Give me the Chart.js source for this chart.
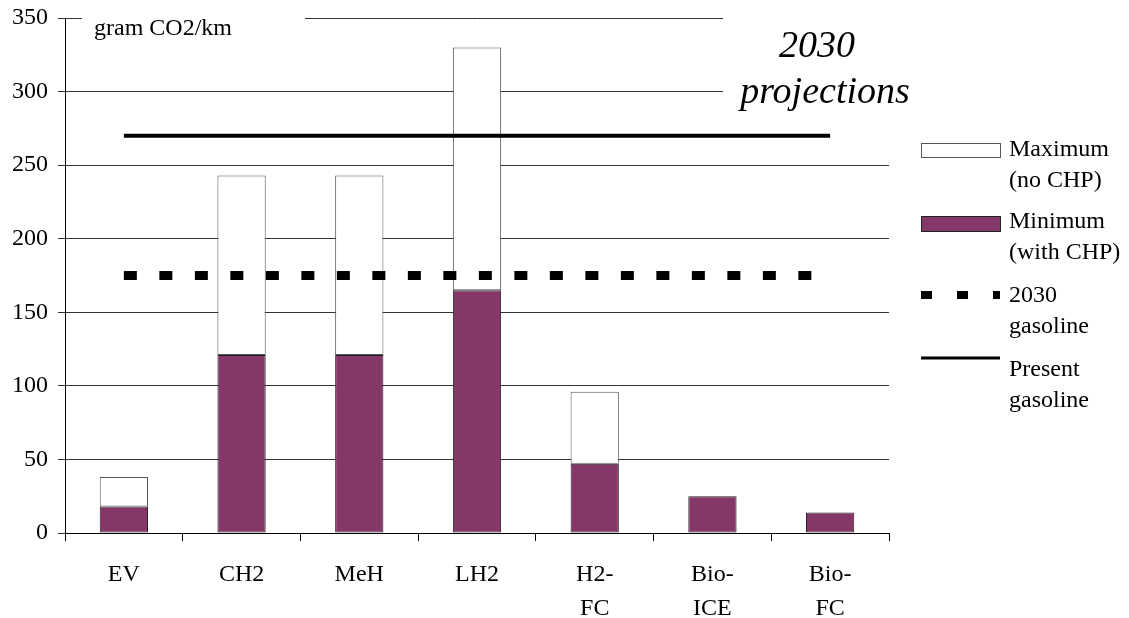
<!DOCTYPE html>
<html>
<head>
<meta charset="utf-8">
<script src="https://cdn.jsdelivr.net/npm/chart.js@4"></script>
<style>
  html, body { margin: 0; padding: 0; background: #fff; }
  #wrap { width: 1129px; height: 618px; }
</style>
</head>
<body>
<div id="wrap"><canvas id="canvas" width="1129" height="618"></canvas></div>
<script>
const categories = ['EV', 'CH2', 'MeH', 'LH2', 'H2-FC', 'Bio-ICE', 'Bio-FC'];
const tickLabels = [['EV'], ['CH2'], ['MeH'], ['LH2'], ['H2-', 'FC'], ['Bio-', 'ICE'], ['Bio-', 'FC']];
const minimumWithCHP = [18, 121, 121, 165, 47, 25, 14];
const maximumNoCHP = [38, 243, 243, 330, 96, null, null];
const gasoline2030 = [175, 175, 175, 175, 175, 175, 175];
const gasolinePresent = [270, 270, 270, 270, 270, 270, 270];
const yTicks = [0, 50, 100, 150, 200, 250, 300, 350];

const purple = '#853868';
const serif = '"Liberation Serif", "DejaVu Serif", serif';

// white text boxes and the legend, drawn like the Excel original
const decorations = {
    id: 'decorations',
    beforeDatasetsDraw(chart) {
        const ctx = chart.ctx;
        const area = chart.chartArea;
        ctx.save();
        ctx.fillStyle = '#fff';
        ctx.fillRect(82, area.top - 10, 223, 40);
        ctx.fillRect(723, area.top - 10, 240, 110);
        ctx.fillStyle = '#000';
        ctx.textBaseline = 'alphabetic';
        ctx.textAlign = 'left';
        ctx.font = '24px ' + serif;
        ctx.fillText('gram CO2/km', 94, 35);
        ctx.textAlign = 'center';
        ctx.font = 'italic 38px ' + serif;
        ctx.fillText('2030', 817, 57);
        ctx.fillText('projections', 825, 103);
        ctx.restore();
    },
    afterDraw(chart) {
        const ctx = chart.ctx;
        const x0 = 921, x1 = 1000, tx = 1009;
        ctx.save();
        // Maximum
        ctx.fillStyle = '#fff';
        ctx.strokeStyle = '#555';
        ctx.lineWidth = 1;
        ctx.fillRect(x0, 143, x1 - x0, 14);
        ctx.strokeRect(x0 + 0.5, 143.5, x1 - x0, 14);
        // Minimum
        ctx.fillStyle = purple;
        ctx.strokeStyle = '#222';
        ctx.fillRect(x0, 216, x1 - x0, 15);
        ctx.strokeRect(x0 + 0.5, 216.5, x1 - x0, 15);
        // 2030 gasoline
        ctx.fillStyle = '#000';
        ctx.strokeStyle = '#000';
        ctx.lineWidth = 8;
        ctx.setLineDash([11, 25]);
        ctx.beginPath();
        ctx.moveTo(x0, 295);
        ctx.lineTo(x1, 295);
        ctx.stroke();
        ctx.setLineDash([]);
        ctx.fillRect(993, 291, 7, 8);
        // Present gasoline
        ctx.lineWidth = 3;
        ctx.beginPath();
        ctx.moveTo(x0, 358);
        ctx.lineTo(x1, 358);
        ctx.stroke();
        ctx.font = '24px ' + serif;
        ctx.textBaseline = 'middle';
        ctx.textAlign = 'left';
        const rows = [
            ['Maximum', 150], ['(no CHP)', 181],
            ['Minimum', 222], ['(with CHP)', 253],
            ['2030', 296], ['gasoline', 327],
            ['Present', 370], ['gasoline', 401]
        ];
        rows.forEach(r => ctx.fillText(r[0], tx, r[1]));
        ctx.restore();
    }
};

const data = {
    labels: tickLabels,
    datasets: [{
        type: 'line',
        label: 'Present gasoline',
        data: gasolinePresent,
        borderColor: '#000',
        borderWidth: 4,
        pointRadius: 0,
        order: 0
    }, {
        type: 'line',
        label: '2030 gasoline',
        data: gasoline2030,
        borderColor: '#000',
        borderWidth: 9,
        borderDash: [13, 22.5],
        borderCapStyle: 'butt',
        pointRadius: 0,
        order: 0
    }, {
        type: 'bar',
        label: 'Maximum (no CHP)',
        data: maximumNoCHP.map((v, i) => v === null ? null : [minimumWithCHP[i], v]),
        backgroundColor: '#fff',
        borderColor: '#555',
        borderWidth: 1,
        borderSkipped: false,
        grouped: false,
        categoryPercentage: 1,
        barPercentage: 0.41,
        order: 1
    }, {
        type: 'bar',
        label: 'Minimum (with CHP)',
        data: minimumWithCHP,
        backgroundColor: purple,
        borderColor: '#222',
        borderWidth: 1,
        borderSkipped: false,
        grouped: false,
        categoryPercentage: 1,
        barPercentage: 0.41,
        order: 1
    }]
};

const config = {
    type: 'bar',
    data: data,
    options: {
        responsive: false,
        animation: false,
        layout: { padding: { top: 18, right: 240, bottom: 0, left: 0 } },
        plugins: {
            legend: { display: false },
            tooltip: { enabled: false }
        },
        scales: {
            x: {
                offset: true,
                afterFit: s => { s.height = 85; },
                border: { color: '#000', width: 1 },
                grid: { drawOnChartArea: false, tickLength: 8, color: '#000', offset: true },
                ticks: {
                    color: '#000',
                    padding: 17,
                    maxRotation: 0,
                    font: { family: serif, size: 24, lineHeight: 1.42 }
                }
            },
            y: {
                min: 0,
                max: 350,
                afterFit: s => { s.width = 65; s.paddingTop = 0; s.paddingBottom = 0; },
                afterBuildTicks: s => { s.ticks = yTicks.map(v => ({ value: v })); },
                border: { color: '#000', width: 1 },
                grid: { color: '#333', tickLength: 7 },
                ticks: {
                    color: '#000',
                    padding: 10,
                    font: { family: serif, size: 24 }
                }
            }
        }
    },
    plugins: [decorations]
};

const myChart = new Chart(document.querySelector('#canvas'), config);
</script>
</body>
</html>
